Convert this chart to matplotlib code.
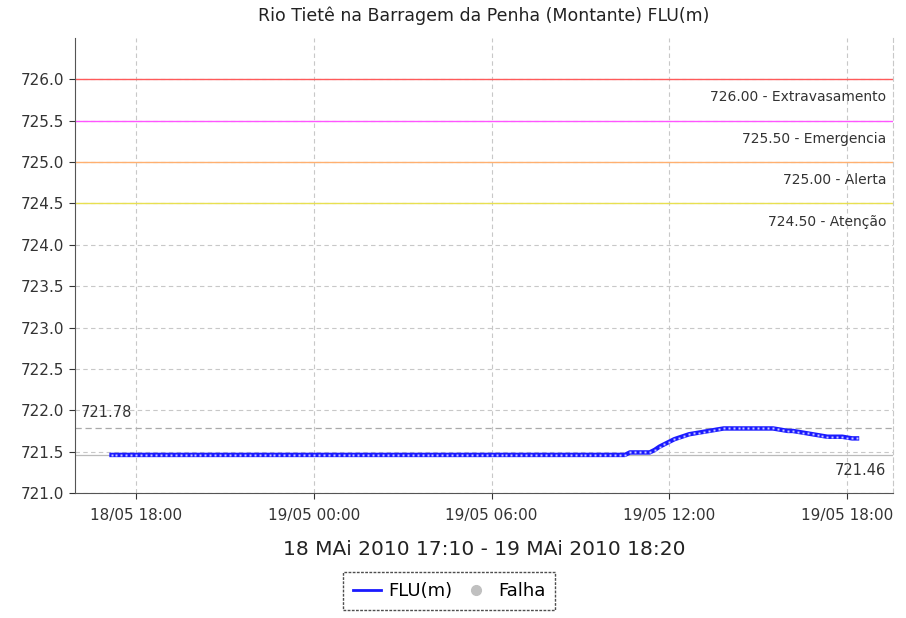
import matplotlib
matplotlib.use("Agg")
import matplotlib.pyplot as plt
import matplotlib.dates as mdates
from matplotlib.lines import Line2D
import pandas as pd

title = "Rio Tietê na Barragem da Penha (Montante) FLU(m)"
period_label = "18 MAi 2010 17:10 - 19 MAi 2010 18:20"

# readings every 10 minutes, 18/05 17:10 -> 19/05 18:20
times = pd.date_range("2010-05-18 17:10", "2010-05-19 18:20", freq="10min")
flu_flat = [721.46] * 105  # 18/05 17:10 .. 19/05 10:30
flu_rise = [721.49, 721.49, 721.49, 721.49, 721.49,
            721.52, 721.56, 721.59, 721.62, 721.65, 721.67, 721.69,
            721.71, 721.72, 721.73, 721.74, 721.75, 721.76,
            721.77, 721.78, 721.78, 721.78, 721.78, 721.78, 721.78,
            721.78, 721.78, 721.78, 721.78, 721.78, 721.77,
            721.76, 721.75, 721.75, 721.74, 721.73, 721.72, 721.71,
            721.70, 721.69, 721.68, 721.68, 721.68, 721.68, 721.67,
            721.66, 721.66]
flu = flu_flat + flu_rise

limit_values = [726.0, 725.5, 725.0, 724.5]
limit_names = ["Extravasamento", "Emergencia", "Alerta", "Atenção"]
limit_colors = ["#ff5a5a", "#ff55ff", "#ffb070", "#e8e050"]

y_max = max(flu)
y_min = min(flu)

fig = plt.figure(figsize=(9.06, 6.18), dpi=100)
ax = fig.add_axes([0.0828, 0.2023, 0.9029, 0.7362])

ax.set_ylim(721.0, 726.5)
ax.set_xlim(pd.Timestamp("2010-05-18 15:56"), pd.Timestamp("2010-05-19 19:33"))
ax.set_yticks([721.0 + 0.5 * i for i in range(11)])
ax.yaxis.set_major_formatter(matplotlib.ticker.FormatStrFormatter("%.1f"))
ax.set_xticks(pd.date_range("2010-05-18 18:00", "2010-05-19 18:00", freq="6h"))
ax.xaxis.set_major_formatter(mdates.DateFormatter("%d/%m %H:%M"))
ax.grid(True, color="#c8c8c8", linestyle=(0, (4, 3)), linewidth=0.8)
ax.tick_params(labelsize=11, colors="#333333", length=4)
ax.tick_params(axis="x", pad=7)

ax.spines["top"].set_visible(False)
ax.spines["right"].set_color("#c8c8c8")
ax.spines["right"].set_linestyle((0, (4, 3)))
ax.spines["left"].set_color("#555555")
ax.spines["bottom"].set_color("#555555")

# alert levels
for v, n, c in zip(limit_values, limit_names, limit_colors):
    ax.axhline(v, color=c, linewidth=1.0)
    ax.annotate("%.2f - %s" % (v, n), xy=(1, v), xycoords=("axes fraction", "data"),
                xytext=(-5, -8), textcoords="offset points", ha="right", va="top",
                fontsize=10, color="#333333")

# max / min markers
ax.axhline(y_max, color="#aaaaaa", linestyle=(0, (5, 3)), linewidth=0.9)
ax.annotate("%.2f" % y_max, xy=(0, y_max), xycoords=("axes fraction", "data"),
            xytext=(4, 6), textcoords="offset points", ha="left", va="bottom",
            fontsize=10.5, color="#333333")
ax.axhline(y_min, color="#bbbbbb", linewidth=0.9)
ax.annotate("%.2f" % y_min, xy=(1, y_min), xycoords=("axes fraction", "data"),
            xytext=(-5, -6), textcoords="offset points", ha="right", va="top",
            fontsize=10.5, color="#333333")

ax.plot(times, flu, color="#1a1aff", linewidth=3.2, zorder=5)
ax.plot(times, flu, linestyle="none", marker="s", markersize=1.6,
        markerfacecolor="#c8c8ff", markeredgecolor="none", zorder=6)

ax.set_title(title, fontsize=12.5, color="#222222", pad=12)
ax.set_xlabel(period_label, fontsize=14.5, color="#222222", labelpad=12)

handles = [Line2D([], [], color="#1a1aff", linewidth=2),
           Line2D([], [], linestyle="none", marker="o", markersize=7,
                  markerfacecolor="#c0c0c0", markeredgecolor="#c0c0c0")]
leg = fig.legend(handles, ["FLU(m)", "Falha"], loc="center", bbox_to_anchor=(0.4955, 0.0437),
                 ncol=2, fontsize=13, frameon=True, fancybox=False, handlelength=1.6,
                 handletextpad=0.4, columnspacing=0.5, borderpad=0.55, borderaxespad=0)
leg.get_frame().set_edgecolor("#222222")
leg.get_frame().set_linestyle((0, (2, 1)))
leg.get_frame().set_linewidth(1.0)

fig.savefig("out.png", dpi=100)
